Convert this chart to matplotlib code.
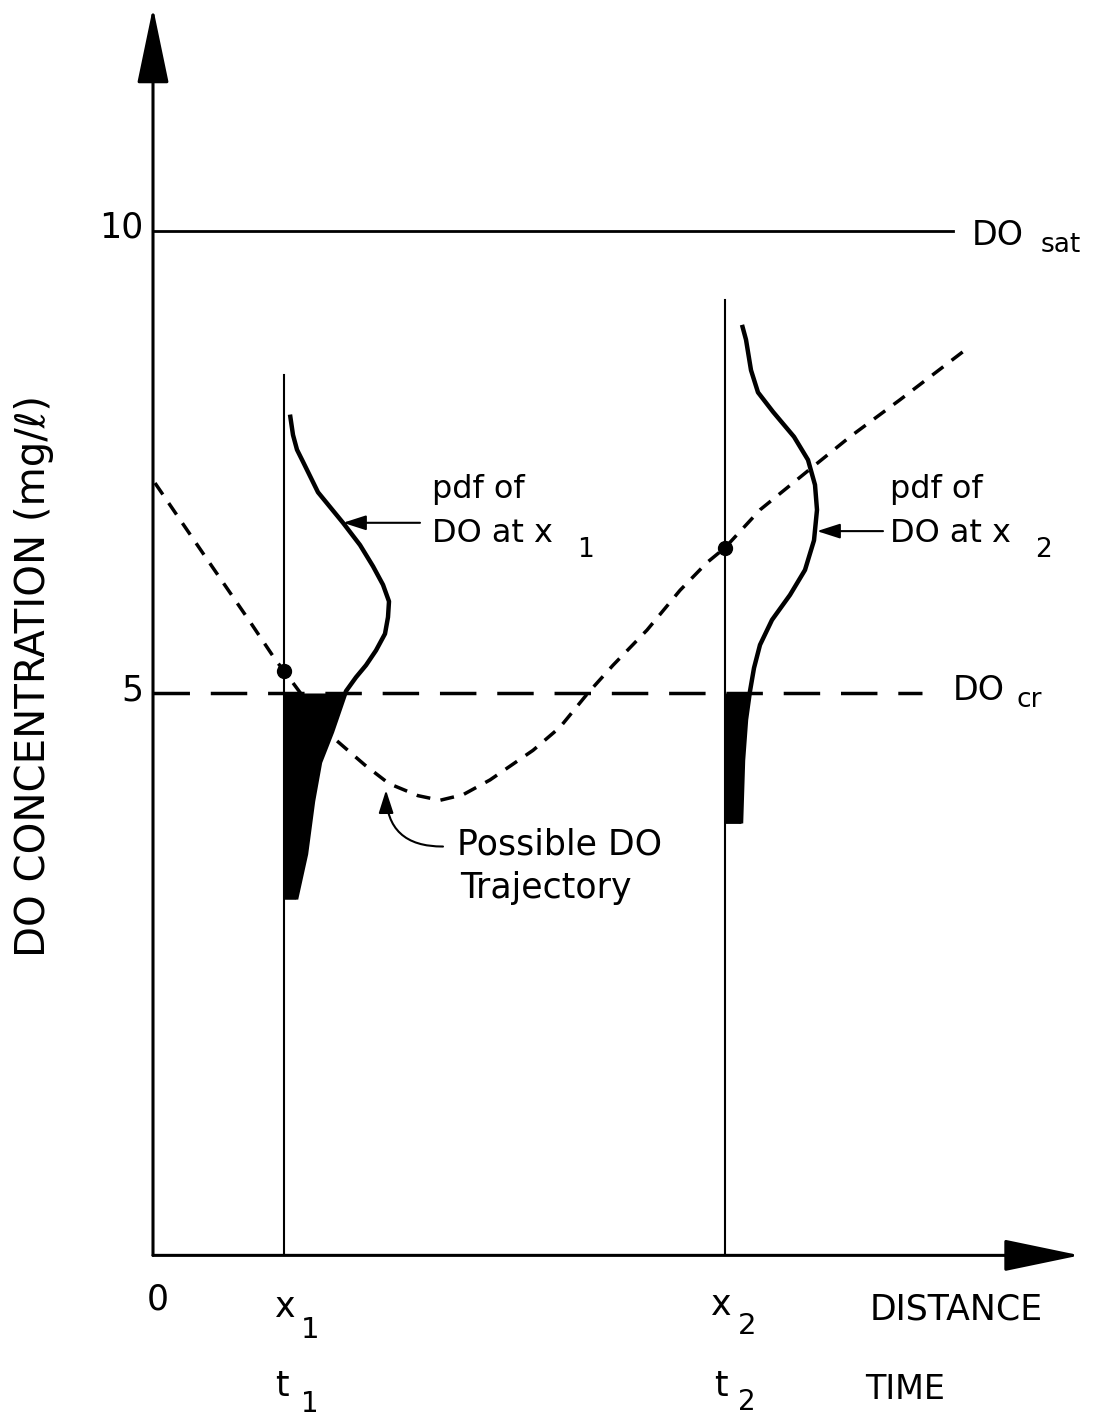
import numpy as np
import matplotlib
matplotlib.use("Agg")
import matplotlib.pyplot as plt
from matplotlib.patches import FancyArrowPatch

plt.rcParams['font.family'] = ['DejaVu Sans']

# levels (mg/l)
do_sat = 10.0
do_cr = 5.0

# stations along the river (distance units)
x1 = 1.31
x2 = 5.72

# possible DO trajectory
traj_x = [0.02, 0.50, 0.97, 1.23, 1.31, 1.81, 2.12, 2.36, 2.65, 2.87, 3.10,
          3.37, 3.80, 4.07, 4.35, 4.60, 4.94, 5.27, 5.54, 5.72, 6.07, 6.57,
          6.97, 7.47, 8.10]
traj_y = [7.27, 6.51, 5.77, 5.35, 5.24, 4.51, 4.22, 4.02, 3.89, 3.84, 3.90,
          4.06, 4.38, 4.63, 5.00, 5.30, 5.68, 6.11, 6.41, 6.57, 6.98, 7.42,
          7.77, 8.17, 8.69]

# pdf of DO at x1 (drawn sideways)
pdf1_x = [1.37, 1.40, 1.44, 1.50, 1.65, 1.90, 2.07, 2.20, 2.30, 2.36, 2.35,
          2.32, 2.23, 2.13, 2.03, 1.93, 1.79, 1.67, 1.60, 1.53, 1.43]
pdf1_y = [8.01, 7.79, 7.63, 7.50, 7.17, 6.84, 6.60, 6.37, 6.17, 5.99, 5.82,
          5.64, 5.46, 5.30, 5.17, 5.02, 4.58, 4.25, 3.83, 3.26, 2.77]

# pdf of DO at x2
pdf2_x = [5.89, 5.93, 5.98, 6.05, 6.20, 6.41, 6.55, 6.62, 6.64, 6.61, 6.52,
          6.37, 6.19, 6.07, 6.01, 5.97, 5.93, 5.90, 5.88]
pdf2_y = [8.98, 8.82, 8.49, 8.25, 8.04, 7.77, 7.52, 7.25, 6.98, 6.65, 6.33,
          6.06, 5.79, 5.52, 5.27, 5.02, 4.71, 4.27, 3.59]

x_base = -1.08   # where the distance axis sits

fig = plt.figure(figsize=(10.94, 14.19), dpi=100)
ax = fig.add_axes([0, 0, 1, 1])
ax.set_xlim(-1.53, 9.41)
ax.set_ylim(-2.849, 12.492)
ax.axis('off')

# axes with arrows
for start, end in [((0, x_base), (0, 12.41)), ((0, x_base), (9.27, x_base))]:
    ax.add_patch(FancyArrowPatch(start, end, arrowstyle='-|>,head_length=4.8,head_width=1.0',
                                 mutation_scale=10, lw=2.2, color='black',
                                 shrinkA=0, shrinkB=0))

# reference levels
ax.plot([0, 8.0], [do_sat, do_sat], color='black', lw=2.0)
ax.plot([0, 7.69], [do_cr, do_cr], color='black', lw=2.5, dashes=(10.5, 6.0))

# station lines
ax.plot([x1, x1], [x_base, 8.44], color='black', lw=1.5)
ax.plot([x2, x2], [x_base, 9.25], color='black', lw=1.5)

# trajectory
ax.plot(traj_x, traj_y, color='black', lw=2.5, dashes=(4.0, 3.0),
        dash_joinstyle='round')

# pdfs and shaded areas below DO_cr
for px_, py_, xs in [(pdf1_x, pdf1_y, x1), (pdf2_x, pdf2_y, x2)]:
    px_ = np.array(px_)
    py_ = np.array(py_)
    ax.plot(px_, py_, color='black', lw=3.2, solid_capstyle='butt',
            solid_joinstyle='round')
    m = py_ <= do_cr + 0.05
    yy = np.concatenate([[do_cr], py_[m]])
    xx = np.concatenate([[np.interp(do_cr, py_[::-1], px_[::-1])], px_[m]])
    ax.fill_betweenx(yy, xs, xx, color='black', lw=0)

# points on the trajectory at x1 and x2
ax.plot([x1, x2], [5.24, 6.57], 'o', color='black', ms=10)

# annotations
arr = dict(arrowstyle='-|>,head_length=1.4,head_width=0.45', mutation_scale=10,
           lw=1.5, color='black', shrinkA=0, shrinkB=0)
ax.add_patch(FancyArrowPatch((2.67, 6.84), (1.90, 6.84), **arr))
ax.add_patch(FancyArrowPatch((7.30, 6.75), (6.64, 6.75), **arr))
ax.add_patch(FancyArrowPatch((2.90, 3.34), (2.33, 3.95),
                             connectionstyle='arc3,rad=-0.5', **arr))

fs = 23
ax.text(2.79, 7.20, 'pdf of', fontsize=fs, va='center')
ax.text(2.79, 6.72, 'DO at x', fontsize=fs, va='center')
ax.text(4.24, 6.55, '1', fontsize=19, va='center')
ax.text(7.37, 7.20, 'pdf of', fontsize=fs, va='center')
ax.text(7.37, 6.72, 'DO at x', fontsize=fs, va='center')
ax.text(8.82, 6.55, '2', fontsize=19, va='center')
ax.text(3.04, 3.36, 'Possible DO', fontsize=25, va='center')
ax.text(3.07, 2.89, 'Trajectory', fontsize=25, va='center')

ax.text(8.19, 9.95, 'DO', fontsize=24, va='center')
ax.text(8.88, 9.84, 'sat', fontsize=19, va='center')
ax.text(8.00, 5.03, 'DO', fontsize=24, va='center')
ax.text(8.64, 4.92, 'cr', fontsize=19, va='center')

ax.text(-0.10, 10.03, '10', fontsize=25, ha='right', va='center')
ax.text(-0.10, 5.03, '5', fontsize=25, ha='right', va='center')
ax.text(-1.19, 5.18, 'DO CONCENTRATION (mg/ℓ)', fontsize=29, rotation=90,
        ha='center', va='center')

ax.text(0.05, -1.56, '0', fontsize=25, ha='center', va='center')
ax.text(x1 + 0.01, -1.64, 'x', fontsize=25, ha='center', va='center')
ax.text(x1 + 0.26, -1.89, '1', fontsize=21, ha='center', va='center')
ax.text(x1 - 0.02, -2.49, 't', fontsize=25, ha='center', va='center')
ax.text(x1 + 0.26, -2.69, '1', fontsize=20, ha='center', va='center')
ax.text(x2 - 0.04, -1.62, 'x', fontsize=25, ha='center', va='center')
ax.text(x2 + 0.22, -1.84, '2', fontsize=21, ha='center', va='center')
ax.text(x2 - 0.04, -2.49, 't', fontsize=25, ha='center', va='center')
ax.text(x2 + 0.22, -2.67, '2', fontsize=20, ha='center', va='center')
ax.text(7.17, -1.66, 'DISTANCE', fontsize=25, va='center')
ax.text(7.12, -2.53, 'TIME', fontsize=24, va='center')

fig.savefig('out.png', dpi=100)
